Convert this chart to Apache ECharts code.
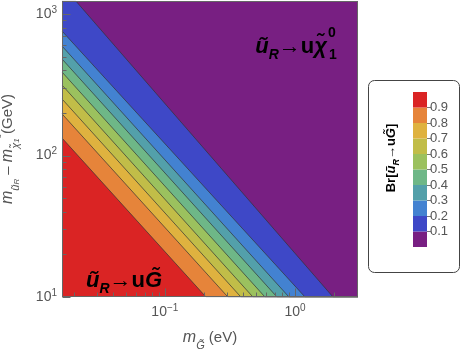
<!DOCTYPE html>
<html>
<head>
<meta charset="utf-8">
<title>Br contour</title>
<script src="https://cdn.jsdelivr.net/npm/echarts@6/dist/echarts.min.js"></script>
<style>
  html, body { margin: 0; padding: 0; background: #fff; }
  #chart { width: 462px; height: 356px; }
</style>
</head>
<body>
<div id="chart"></div>
<script>
// frame ranges
var xRange = [0.0162, 3.05];
var yRange = [10, 1236];

// contour levels; bands run purple (< 0.1) ... red (> 0.9)
var levels = [0.1, 0.2, 0.3, 0.4, 0.5, 0.6, 0.7, 0.8, 0.9];
var bandColors = ['#781f82', '#3e48c7', '#4382d1', '#53a0aa', '#6eb787',
                  '#9bc15e', '#c1bd48', '#dfb23f', '#e6843a', '#da2424'];

// where each contour leaves the frame: top edge (x), left edge (y), bottom edge (x)
var topEdgeX    = [0.0207, null, null, null, null, null, null, null, null];
var leftEdgeY   = [null, 758, 594, 481, 389, 315, 251, 197, 133];
var bottomEdgeX = [1.96, 1.194, 0.899, 0.727, 0.588, 0.475, 0.384, 0.305, 0.207];

// tick positions
var xMajor = [0.1, 1];
var xMinor = [0.02, 0.03, 0.04, 0.05, 0.06, 0.07, 0.08, 0.09,
              0.2, 0.3, 0.4, 0.5, 0.6, 0.7, 0.8, 0.9, 2, 3];
var yMajor = [10, 100, 1000];
var yMinor = [20, 30, 40, 50, 60, 70, 80, 90, 200, 300, 400, 500, 600, 700, 800, 900];

var FONT = '"Liberation Sans", Arial, sans-serif';
var GRAY = '#555';
var FRAME = '#666';
var PLOT = { left: 62, top: 1, width: 296, height: 296 };

function contourPath(i) {
  var pts = [];
  if (topEdgeX[i] != null) {
    pts.push([xRange[0], yRange[1]], [topEdgeX[i], yRange[1]]);
  } else {
    pts.push([xRange[0], leftEdgeY[i]]);
  }
  pts.push([bottomEdgeX[i], yRange[0]], [xRange[1], yRange[0]]);
  return pts;
}

function powLabel(v) {
  var e = Math.round(Math.log10(v));
  return '{b|10}{s|' + (e < 0 ? '\u2212' + (-e) : e) + '}';
}
var powRich = {
  b: { fontSize: 14, color: GRAY, fontFamily: FONT, lineHeight: 18 },
  s: { fontSize: 10, color: GRAY, fontFamily: FONT, lineHeight: 10, verticalAlign: 'top' }
};

var chart = echarts.init(document.getElementById('chart'), null, { renderer: 'canvas' });

// whole frame starts purple (Br < 0.1); bands are painted over it
var series = [{
  type: 'line',
  xAxisIndex: 0, yAxisIndex: 0,
  data: [[xRange[0], yRange[1]], [xRange[1], yRange[1]]],
  showSymbol: false, silent: true,
  lineStyle: { width: 0 },
  areaStyle: { color: bandColors[0], opacity: 1, origin: 'start' }
}];
levels.forEach(function (lv, i) {
  series.push({
    type: 'line',
    xAxisIndex: 0, yAxisIndex: 0,
    data: contourPath(i),
    showSymbol: false,
    silent: true,
    lineStyle: { color: '#333', width: 0.7 },
    areaStyle: { color: bandColors[i + 1], opacity: 1, origin: 'start' }
  });
});

// colour bar as stacked bars
var edges = [0].concat(levels, [1]);
bandColors.forEach(function (c, i) {
  series.push({
    type: 'bar',
    xAxisIndex: 1, yAxisIndex: 1,
    stack: 'cb',
    barWidth: '100%',
    silent: true,
    data: [edges[i + 1] - edges[i]],
    itemStyle: { color: c }
  });
});

var nameRich = {
  i: { fontStyle: 'italic', fontSize: 16, color: GRAY, fontFamily: FONT, lineHeight: 26 },
  n: { fontSize: 15, color: GRAY, fontFamily: FONT, lineHeight: 26 },
  s: { fontStyle: 'italic', fontSize: 11, color: GRAY, fontFamily: FONT, lineHeight: 16, verticalAlign: 'bottom' },
  ss: { fontStyle: 'italic', fontSize: 8, color: GRAY, fontFamily: FONT, lineHeight: 9, verticalAlign: 'bottom' },
  su: { fontSize: 8, color: GRAY, fontFamily: FONT, lineHeight: 10, verticalAlign: 'top' }
};

var annRich = {
  bi: { fontStyle: 'italic', fontWeight: 'bold', fontSize: 22, fontFamily: FONT, fill: '#000', lineHeight: 30 },
  b:  { fontWeight: 'bold', fontSize: 22, fontFamily: FONT, fill: '#000', lineHeight: 30 },
  sub: { fontStyle: 'italic', fontWeight: 'bold', fontSize: 14, fontFamily: FONT, fill: '#000', lineHeight: 18, verticalAlign: 'bottom' }
};

var graphics = [
  {
    type: 'rect', silent: true, z: 100,
    shape: { x: 368.5, y: 80.5, width: 91, height: 192, r: 6 },
    style: { fill: 'none', stroke: '#444', lineWidth: 1 }
  },
  {
    type: 'text', silent: true, z: 100, x: 391, y: 158, rotation: Math.PI / 2,
    style: {
      text: 'Br[{bi|\u0169}{sub|R}{b|\u2192u}{bi|G\u0303}{b|]}',
      align: 'center', verticalAlign: 'middle',
      font: 'bold 13px ' + FONT, fill: '#000',
      rich: {
        bi: { fontStyle: 'italic', fontWeight: 'bold', fontSize: 13, fontFamily: FONT, fill: '#000', lineHeight: 20 },
        b: { fontWeight: 'bold', fontSize: 13, fontFamily: FONT, fill: '#000', lineHeight: 20 },
        sub: { fontStyle: 'italic', fontWeight: 'bold', fontSize: 9, fontFamily: FONT, fill: '#000', lineHeight: 12, verticalAlign: 'bottom' }
      }
    }
  },
  {
    type: 'text', silent: true, z: 100, x: 327, y: 47,
    style: {
      text: '{bi|\u0169}{sub|R}{b|\u2192u}{bi|\u03c7\u0303}',
      align: 'right', verticalAlign: 'middle', rich: annRich
    }
  },
  {
    type: 'text', silent: true, z: 100, x: 328, y: 33,
    style: { text: '0', font: 'bold 14px ' + FONT, fill: '#000', align: 'left', verticalAlign: 'middle' }
  },
  {
    type: 'text', silent: true, z: 100, x: 329, y: 55,
    style: { text: '1', font: 'bold 14px ' + FONT, fill: '#000', align: 'left', verticalAlign: 'middle' }
  },
  {
    type: 'text', silent: true, z: 100, x: 86, y: 281,
    style: {
      text: '{bi|\u0169}{sub|R}{b|\u2192u}{bi|G\u0303}',
      align: 'left', verticalAlign: 'middle', rich: annRich
    }
  }
];

// frame and inward ticks, laid on top of the bands (log position inside the plot box)
function frac(v, r) { return Math.log(v / r[0]) / Math.log(r[1] / r[0]); }
function crisp(p) { return Math.round(p) + 0.5; }
var fx0 = PLOT.left + 0.5, fx1 = PLOT.left + PLOT.width - 0.5;
var fyT = PLOT.top + 0.5, fyB = PLOT.top + PLOT.height - 0.5;
graphics.push({
  type: 'rect', silent: true, z: 100,
  shape: { x: fx0, y: fyT, width: fx1 - fx0, height: fyB - fyT },
  style: { fill: 'none', stroke: FRAME, lineWidth: 1 }
});
function tickX(v, len) {
  var p = crisp(PLOT.left + PLOT.width * frac(v, xRange));
  graphics.push({ type: 'line', silent: true, z: 100,
    shape: { x1: p, y1: fyB, x2: p, y2: fyB - len }, style: { stroke: FRAME, lineWidth: 1 } });
}
function tickY(v, len) {
  var p = crisp(PLOT.top + PLOT.height * (1 - frac(v, yRange)));
  graphics.push({ type: 'line', silent: true, z: 100,
    shape: { x1: fx0, y1: p, x2: fx0 + len, y2: p }, style: { stroke: FRAME, lineWidth: 1 } });
}
xMajor.forEach(function (v) { tickX(v, 8); });
xMinor.forEach(function (v) { tickX(v, 4); });
yMajor.forEach(function (v) { tickY(v, 8); });
yMinor.forEach(function (v) { tickY(v, 4); });

chart.setOption({
  animation: false,
  grid: [
    { left: PLOT.left, top: PLOT.top, width: PLOT.width, height: PLOT.height,
      containLabel: false, outerBoundsMode: 'none' },
    { left: 413, top: 92, width: 14, height: 155, containLabel: false, outerBoundsMode: 'none' }
  ],
  xAxis: [
    {
      type: 'log', gridIndex: 0, min: xRange[0], max: xRange[1],
      name: '{i|m}{s|G\u0303}{n| (eV)}',
      nameLocation: 'middle', nameGap: 28,
      nameTextStyle: { color: GRAY, fontSize: 15, fontFamily: FONT, rich: nameRich },
      axisLine: { show: false }, axisTick: { show: false },
      axisLabel: { show: true, customValues: xMajor, formatter: powLabel, rich: powRich, margin: 6 },
      splitLine: { show: false }, minorTick: { show: false }
    },
    { type: 'category', gridIndex: 1, data: ['Br'], show: false }
  ],
  yAxis: [
    {
      type: 'log', gridIndex: 0, min: yRange[0], max: yRange[1],
      name: '{i|m}{s|\u0169}{ss|R}{n| \u2013 }{i|m}{s|\u03c7\u0303}{ss|1}{su|0}{n|(GeV)}',
      nameLocation: 'middle', nameGap: 41, nameRotate: 90,
      nameTextStyle: { color: GRAY, fontSize: 15, fontFamily: FONT, rich: nameRich },
      axisLine: { show: false }, axisTick: { show: false },
      axisLabel: { show: true, customValues: yMajor, formatter: powLabel, rich: powRich, margin: 5 },
      splitLine: { show: false }, minorTick: { show: false }
    },
    {
      type: 'value', gridIndex: 1, min: 0, max: 1, position: 'right',
      axisLine: { show: false },
      axisTick: { show: true, length: 4, customValues: levels, lineStyle: { color: '#777' } },
      axisLabel: {
        show: true, customValues: levels, margin: 3, color: GRAY, fontSize: 13, fontFamily: FONT,
        formatter: function (v) { return v.toFixed(1); }
      },
      splitLine: { show: false }
    }
  ],
  graphic: graphics,
  series: series
});
</script>
</body>
</html>
